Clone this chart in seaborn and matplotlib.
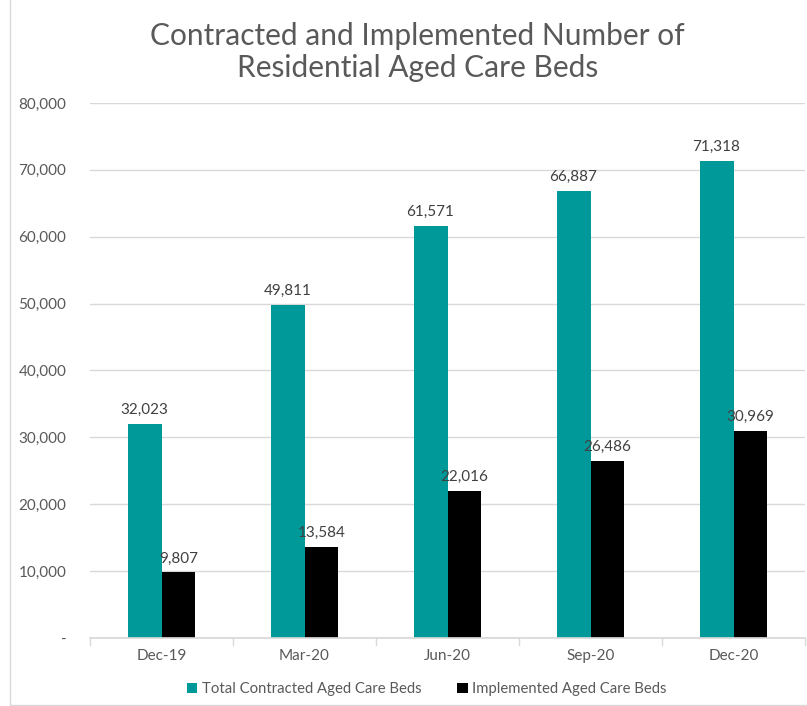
import matplotlib
matplotlib.use("Agg")
import matplotlib.pyplot as plt
import seaborn as sns
import pandas as pd
from matplotlib.patches import Rectangle

# ---- data ----
periods = ["Dec-19", "Mar-20", "Jun-20", "Sep-20", "Dec-20"]
contracted = [32023, 49811, 61571, 66887, 71318]
implemented = [9807, 13584, 22016, 26486, 30969]
series_names = ["Total Contracted Aged Care Beds", "Implemented Aged Care Beds"]

df = pd.DataFrame({
    "period": periods * 2,
    "beds": contracted + implemented,
    "series": [series_names[0]] * 5 + [series_names[1]] * 5,
})

sns.set_theme(style="white")
plt.rcParams["font.family"] = ["Lato", "DejaVu Sans"]
grey = "#595959"

fig = plt.figure(figsize=(8.07, 7.06), dpi=100)
ax = fig.add_axes([90 / 807, 1 - 638 / 706, (805 - 90) / 807, (638 - 103) / 706])

sns.barplot(data=df, x="period", y="beds", hue="series",
            palette=["#009999", "#000000"], width=0.475, ax=ax,
            saturation=1, legend=True, linewidth=0, edgecolor="none", gap=0)

ax.set_ylim(0, 80000)
ax.set_yticks(range(0, 80001, 10000))
ax.set_yticklabels(["-"] + [f"{v:,}" for v in range(10000, 80001, 10000)],
                   color=grey, fontsize=11)
ax.yaxis.grid(True, color="#d9d9d9", linewidth=1)
ax.set_axisbelow(True)
ax.set_xlabel("")
ax.set_ylabel("")
ax.tick_params(axis="x", colors=grey, labelsize=11, pad=8, length=0)
ax.tick_params(axis="y", length=0, pad=17)
for s in ["top", "right", "left"]:
    ax.spines[s].set_visible(False)
ax.spines["bottom"].set_color("#d9d9d9")

# small category tick marks on x axis
for xpos in [i - 0.5 for i in range(6)]:
    ax.plot([xpos, xpos], [0, -1000], color="#d9d9d9", lw=1, clip_on=False)
ax.set_xlim(-0.5, 4.5)

for cont in ax.containers:
    ax.bar_label(cont, labels=[f"{v:,.0f}" for v in cont.datavalues],
                 padding=5, color="#404040", fontsize=11)

leg = ax.legend(loc="upper center", bbox_to_anchor=(0.471, -0.058), ncol=2,
                frameon=False, fontsize=10.7, handlelength=0.7, handleheight=0.7,
                handletextpad=0.3, columnspacing=2.4)
for t in leg.get_texts():
    t.set_color(grey)

fig.text(0.517, 1 - 52 / 706, "Contracted and Implemented Number of\nResidential Aged Care Beds",
         ha="center", va="center", fontsize=21.5, color=grey, linespacing=1.15)

fig.patches.append(Rectangle((10 / 807, 0.002), 1, 1.1, transform=fig.transFigure,
                             fill=False, edgecolor="#d9d9d9", lw=1))

fig.savefig("out.png", dpi=100)
